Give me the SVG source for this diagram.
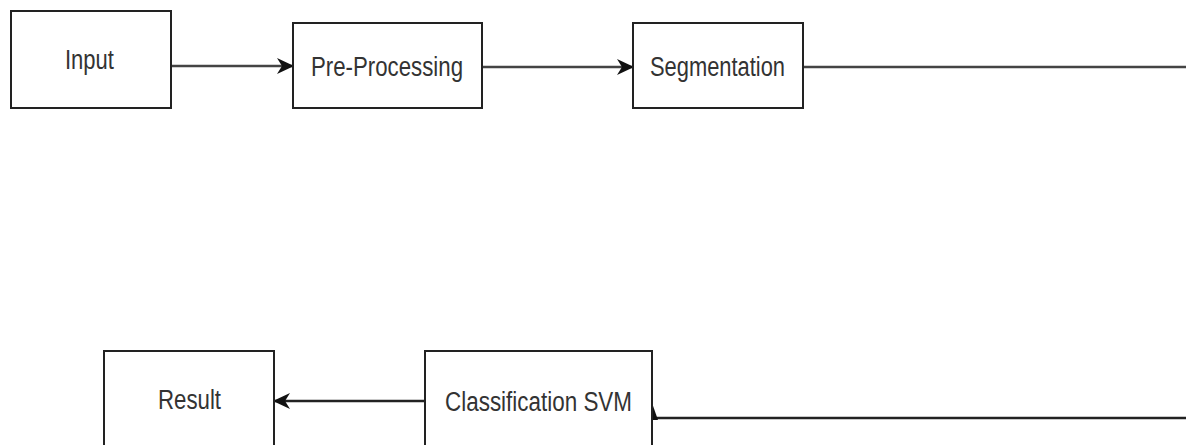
<svg xmlns="http://www.w3.org/2000/svg" width="1186" height="445" viewBox="0 0 1186 445">
<style>
.box{fill:#fff;stroke:#222;stroke-width:2}
.lbl{font-family:"Liberation Sans",Arial,sans-serif;font-size:27px;fill:#333}
.edge{fill:none;stroke:#444;stroke-width:2.6}
.edge2{fill:none;stroke:#222;stroke-width:2.4}
</style>
<defs>
<marker id="arr" markerUnits="userSpaceOnUse" markerWidth="18" markerHeight="18" refX="16" refY="9" orient="auto">
<path d="M0,1 L17,9 L0,17 L5,9 Z" fill="#111"/>
</marker>
</defs>
<rect width="1186" height="445" fill="#fff"/>
<g id="connectors">
<path class="edge" d="M171 66 H293" marker-end="url(#arr)"/>
<path class="edge" d="M482 67 H633" marker-end="url(#arr)"/>
<path class="edge" d="M803 67 H1186"/>
<path class="edge2" d="M425 401 H274" marker-end="url(#arr)"/>
<path class="edge2" d="M1186 418 H653"/>
<polygon points="652,403 658,420 650,420" fill="#111"/>
</g>
<g id="input">
<rect class="box" x="11" y="11" width="160" height="97"/>
<text class="lbl" x="65" y="69" textLength="49" lengthAdjust="spacingAndGlyphs">Input</text>
</g>
<g id="preprocessing">
<rect class="box" x="293" y="23" width="189" height="85"/>
<text class="lbl" x="311" y="76" textLength="152" lengthAdjust="spacingAndGlyphs">Pre-Processing</text>
</g>
<g id="segmentation">
<rect class="box" x="633" y="23" width="170" height="85"/>
<text class="lbl" x="650" y="76" textLength="135" lengthAdjust="spacingAndGlyphs">Segmentation</text>
</g>
<g id="result">
<rect class="box" x="104" y="351" width="170" height="110"/>
<text class="lbl" x="158" y="409" textLength="63" lengthAdjust="spacingAndGlyphs">Result</text>
</g>
<g id="classification">
<rect class="box" x="425" y="351" width="227" height="110"/>
<text class="lbl" x="445" y="411" textLength="187" lengthAdjust="spacingAndGlyphs">Classification SVM</text>
</g>
</svg>
